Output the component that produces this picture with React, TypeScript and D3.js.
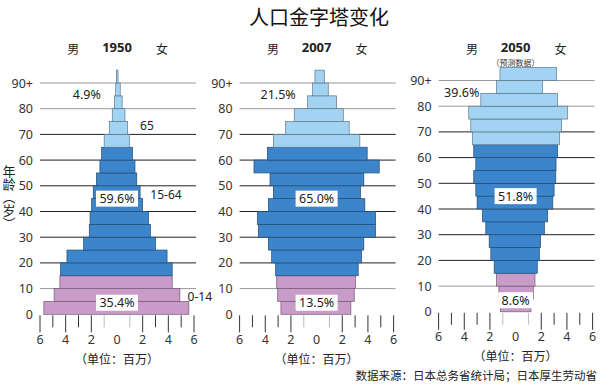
import React from 'react';
import { scaleLinear, color } from 'd3';

// 5-year age groups, 0-4 ... 90+
const groups = ['0-4', '5-9', '10-14', '15-19', '20-24', '25-29', '30-34', '35-39', '40-44', '45-49',
  '50-54', '55-59', '60-64', '65-69', '70-74', '75-79', '80-84', '85-89', '90+'];

// millions of people
const male1950 = [5.7, 4.9, 4.45, 4.4, 3.9, 2.6, 2.16, 2.1, 1.98, 1.85, 1.6, 1.33, 1.2, 1.0, 0.6, 0.37, 0.2, 0.1, 0.05];
const female1950 = [5.6, 4.9, 4.3, 4.3, 3.9, 3.0, 2.6, 2.45, 2.0, 1.8, 1.54, 1.4, 1.2, 0.96, 0.83, 0.62, 0.4, 0.25, 0.08];
const male2007 = [2.78, 3.03, 3.11, 3.19, 3.5, 3.76, 4.54, 4.62, 3.76, 3.37, 3.63, 4.88, 3.84, 3.37, 2.41, 1.74, 0.7, 0.31, 0.13];
const female2007 = [2.67, 2.93, 3.03, 3.24, 3.5, 3.68, 4.59, 4.59, 3.76, 3.42, 3.68, 4.88, 3.94, 3.37, 2.54, 2.08, 1.56, 0.91, 0.6];
const male2050 = [1.17, 1.3, 1.48, 1.67, 1.93, 2.06, 2.32, 2.58, 3.0, 3.1, 3.26, 3.1, 3.26, 3.36, 3.49, 3.65, 2.71, 1.48, 1.22];
const female2050 = [1.2, 1.38, 1.51, 1.69, 1.85, 1.95, 2.24, 2.5, 2.9, 3.0, 3.13, 3.15, 3.28, 3.41, 3.59, 4.06, 3.26, 2.11, 3.2];

// shares: 0-14, 15-64, 65+
const share1950 = ['35.4%', '59.6%', '4.9%'];
const share2007 = ['13.5%', '65.0%', '21.5%'];
const share2050 = ['8.6%', '51.8%', '39.6%'];

const years = ['1950', '2007', '2050'];
const yTicks = [0, 10, 20, 30, 40, 50, 60, 70, 80, 90];
const xTicks = [-6, -5, -4, -3, -2, -1, 1, 2, 3, 4, 5, 6];
const xLabels = [-6, -4, -2, 0, 2, 4, 6];

const panels = [
  { year: years[0], male: male1950, female: female1950, share: share1950, cx: 117, dy: 0, oldX: -2.35, note: '' },
  { year: years[1], male: male2007, female: female2007, share: share2007, cx: 316.6, dy: 0, oldX: -3.0, note: '' },
  { year: years[2], male: male2050, female: female2050, share: share2050, cx: 515.6, dy: -2.5, oldX: -4.2, note: '（预测数据）' },
];

const FONT = '"Noto Sans", "Noto Sans CJK SC", sans-serif';
const CJK = '"Noto Sans CJK SC", sans-serif';

const fillFor = (i: number) => (i < 3 ? '#c99bc9' : i < 13 ? '#3d85cb' : '#a3d3f3');

const Label = ({ x, y, text }: { x: number; y: number; text: string }) => {
  const w = text.length * 7.2 + 6;
  return (
    <g>
      <rect x={x - w / 2} y={y - 8} width={w} height={16} fill="#fff" />
      <text x={x} y={y} textAnchor="middle" dominantBaseline="central" fontSize={12.5} fill="#222" fontFamily={FONT}>{text}</text>
    </g>
  );
};

const Panel = ({ p }: { p: typeof panels[number] }) => {
  const x = scaleLinear().domain([-6, 6]).range([p.cx - 77, p.cx + 77]);
  const y = scaleLinear().domain([0, 90]).range([314.3 + p.dy, 83 + p.dy]);
  const y0 = y(0);
  return (
    <g>
      {/* header */}
      <text x={x(-3.4)} y={48} textAnchor="middle" dominantBaseline="central" fontSize={12} fontFamily={CJK} fill="#222">男</text>
      <text x={x(0)} y={46.5} textAnchor="middle" dominantBaseline="central" fontSize={13} fontWeight="bold" fontFamily={FONT} fill="#222">{p.year}</text>
      <text x={x(3.5)} y={48} textAnchor="middle" dominantBaseline="central" fontSize={12} fontFamily={CJK} fill="#222">女</text>
      {p.note && (
        <text x={x(0)} y={62} textAnchor="middle" dominantBaseline="central" fontSize={8} fontFamily={CJK} fill="#333">{p.note}</text>
      )}

      {/* grid */}
      {yTicks.slice(1).map(t => (
        <line key={t} x1={x(-6)} x2={x(6) + 2} y1={y(t)} y2={y(t)}
          stroke={t >= 20 && t <= 70 ? '#222' : '#999'} strokeWidth={1} />
      ))}
      {yTicks.map(t => (
        <text key={t} x={x(-6) - 7} y={y(t)} textAnchor="end" dominantBaseline="central" fontSize={12.5} fontFamily={FONT} fill="#333">
          {t === 90 ? '90+' : t}
        </text>
      ))}

      {/* bars */}
      {groups.map((g, i) => {
        const fill = fillFor(i);
        return (
          <rect key={g} x={x(-p.male[i])} width={x(p.female[i]) - x(-p.male[i])}
            y={y((i + 1) * 5)} height={y(i * 5) - y((i + 1) * 5)}
            fill={fill} stroke={color(fill)!.darker(1.6).formatHex()} strokeWidth={0.7} />
        );
      })}

      {/* x axis ticks */}
      {xTicks.map(t => (
        <line key={t} x1={x(t)} x2={x(t)} y1={y0 + 1} y2={y0 + (t % 2 === 0 ? 18 : 13)}
          stroke={Math.abs(t) === 1 ? '#bbb' : '#333'} strokeWidth={1} />
      ))}
      {xLabels.map(t => (
        <text key={t} x={x(t)} y={y0 + 25} textAnchor="middle" dominantBaseline="central" fontSize={12.5} fontFamily={FONT} fill="#333">
          {Math.abs(t)}
        </text>
      ))}
      <text x={x(0)} y={y0 + 44} textAnchor="middle" dominantBaseline="central" fontSize={12} fontFamily={CJK} fill="#222">（单位：百万）</text>

      {/* shares */}
      <Label x={x(0)} y={y(4.5)} text={p.share[0]} />
      <Label x={x(0)} y={y(45)} text={p.share[1]} />
      <text x={x(p.oldX)} y={y(85.5)} textAnchor="middle" dominantBaseline="central" fontSize={12.5} fontFamily={FONT} fill="#222">{p.share[2]}</text>
    </g>
  );
};

const App: React.FC = () => {
  const first = panels[0];
  const x1 = scaleLinear().domain([-6, 6]).range([first.cx - 77, first.cx + 77]);
  const y1 = scaleLinear().domain([0, 90]).range([314.3, 83]);
  return (
    <svg width={600} height={390} style={{ position: 'absolute', left: 0, top: 0, background: '#fff' }}>
      <rect width={600} height={390} fill="#fff" />
      <text x={319} y={16} textAnchor="middle" dominantBaseline="central" fontSize={20} fontFamily={CJK} fill="#111">人口金字塔变化</text>

      {panels.map(p => <Panel key={p.year} p={p} />)}

      {/* group names in 1950 panel */}
      <text x={x1(1.8)} y={y1(73.5)} dominantBaseline="central" fontSize={12} fontFamily={FONT} fill="#222">65</text>
      <text x={x1(2.6)} y={y1(46.5)} dominantBaseline="central" fontSize={12} fontFamily={FONT} fill="#222">15-64</text>
      <text x={x1(5.5)} y={y1(6.8)} dominantBaseline="central" fontSize={12} fontFamily={FONT} fill="#222">0-14</text>

      {/* vertical axis title */}
      <text x={9} y={165} style={{ writingMode: 'vertical-rl' }} fontSize={13} fontFamily={CJK} fill="#222">年龄（岁）</text>

      <text x={597} y={375} textAnchor="end" dominantBaseline="central" fontSize={11.5} fontFamily={CJK} fill="#222">数据来源：日本总务省统计局；日本厚生劳动省</text>
    </svg>
  );
};

export default App;
